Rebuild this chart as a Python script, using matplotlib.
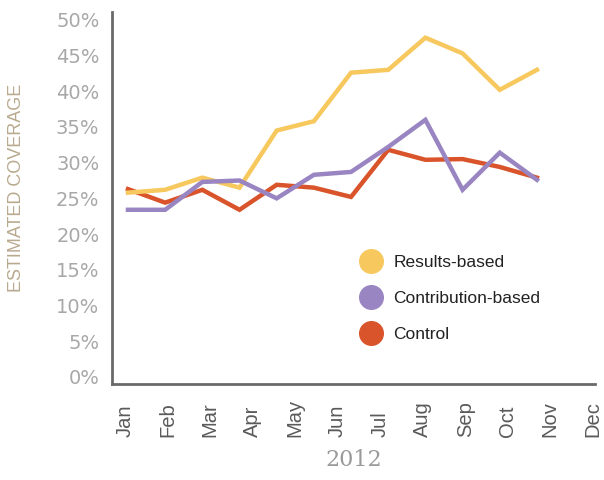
import matplotlib
matplotlib.use("Agg")
import matplotlib.pyplot as plt
from matplotlib.lines import Line2D
import numpy as np

months = ["Jan", "Feb", "Mar", "Apr", "May", "Jun", "Jul", "Aug", "Sep", "Oct", "Nov", "Dec"]
results_based = [25.8, 26.2, 27.9, 26.5, 34.5, 35.8, 42.6, 43.0, 47.5, 45.3, 40.2, 43.0]
contribution_based = [23.4, 23.4, 27.3, 27.5, 25.0, 28.3, 28.7, 32.2, 36.0, 26.2, 31.4, 27.6]
control = [26.3, 24.4, 26.2, 23.4, 26.9, 26.5, 25.2, 31.8, 30.4, 30.5, 29.4, 27.9]
yticks = [0, 5, 10, 15, 20, 25, 30, 35, 40, 45, 50]

c_yellow = "#F7C85E"
c_purple = "#9985C2"
c_red = "#D9542A"

fig = plt.figure(figsize=(6.04, 4.80), dpi=100)
ax = fig.add_axes([0.1854, 0.2, 0.7996, 0.775])

x = np.arange(len(results_based))
ax.plot(x, results_based, color=c_yellow, lw=3.2, solid_joinstyle="miter", zorder=3)
ax.plot(x, control, color=c_red, lw=3.2, solid_joinstyle="miter", zorder=2)
ax.plot(x, contribution_based, color=c_purple, lw=3.2, solid_joinstyle="miter", zorder=4)

ax.set_xlim(-0.43, 12.56)
ax.set_ylim(-1, 51.1)

for s in ["top", "right"]:
    ax.spines[s].set_visible(False)
for s in ["left", "bottom"]:
    ax.spines[s].set_color("#6a6a6a")
    ax.spines[s].set_linewidth(2)

ax.set_yticks(yticks)
ax.set_yticklabels([f"{v}%" for v in yticks], color="#a8a8a8", fontsize=14,
                   family="DejaVu Sans")
ax.tick_params(axis="y", length=0, pad=9)
ax.set_xticks([])

# month labels (spread along the axis, reading upward)
label_pos = -0.08 + np.arange(len(months)) * (12.58 / 11)
for pos, m in zip(label_pos, months):
    ax.text(pos, -0.142, m, rotation=90, ha="center", va="bottom",
            transform=ax.get_xaxis_transform(), fontsize=14.5,
            color="#5a5a5a", family="Liberation Sans")

ax.text(0.5, -0.205, "2012", transform=ax.transAxes, ha="center", va="center",
        fontsize=16, color="#9a9a9a", family="DejaVu Serif")
fig.text(0.028, 0.608, "ESTIMATED COVERAGE", rotation=90, ha="center", va="center",
         fontsize=13, color="#b9a98e", family="Liberation Sans")

handles = [
    Line2D([], [], marker="o", ls="none", markersize=17, color=c_yellow, label="Results-based"),
    Line2D([], [], marker="o", ls="none", markersize=17, color=c_purple, label="Contribution-based"),
    Line2D([], [], marker="o", ls="none", markersize=17, color=c_red, label="Control"),
]
leg = ax.legend(handles=handles, loc="upper left", bbox_to_anchor=(0.487, 0.365),
                frameon=False, prop={"family": "Liberation Sans", "size": 12.5},
                labelspacing=1.2, handletextpad=0.25, borderaxespad=0)
for t in leg.get_texts():
    t.set_color("#222222")

fig.savefig("out.png", dpi=100)
